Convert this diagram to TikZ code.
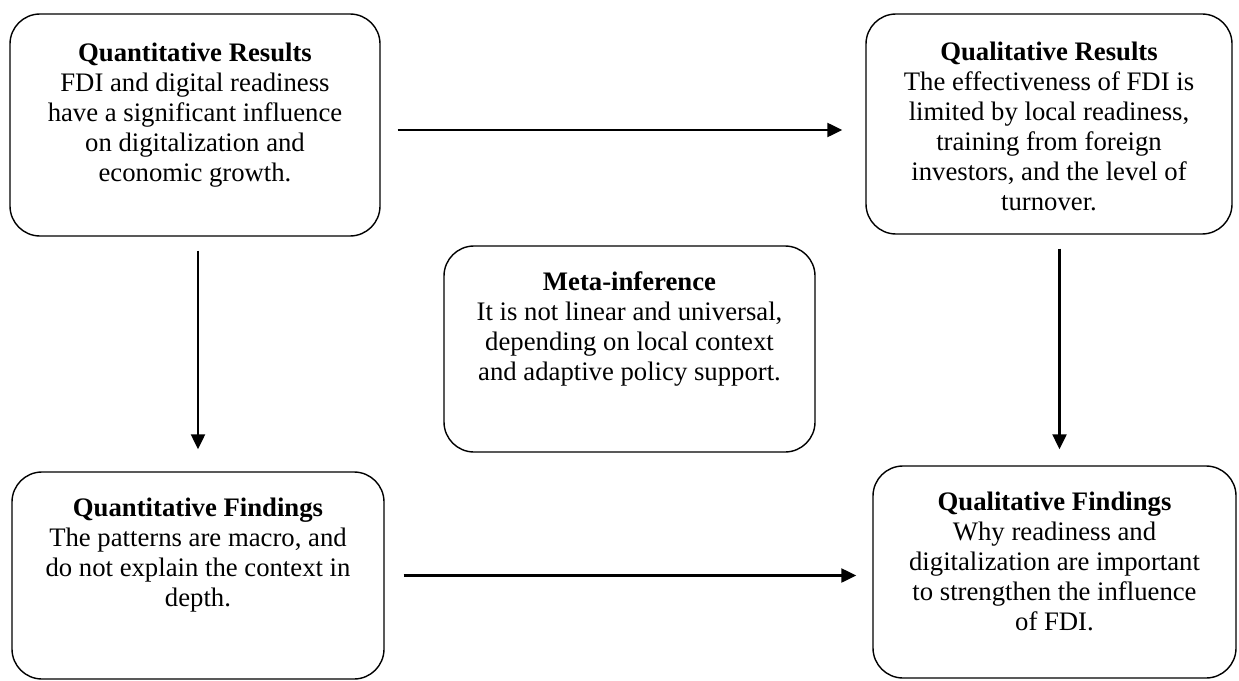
\documentclass[tikz,border=0pt]{standalone}
\usepackage{fontspec}
\setmainfont{Liberation Serif}
\usetikzlibrary{positioning,arrows.meta}
\tikzset{
  panel/.style={draw,line width=0.8pt,rounded corners=0.6cm,inner sep=0pt},
  paneltext/.style={align=center,inner sep=0pt,font=\fontsize{15.2pt}{17.07pt}\selectfont},
  flow/.style={line width=1.3pt,-{Triangle[length=3mm,width=2.8mm]}}
}
\begin{document}
\begin{tikzpicture}
\useasboundingbox (0,0) rectangle (24.78,-13.6);
\node [panel,minimum width=7.40cm,minimum height=4.44cm] (qnres) at (3.90,-2.50) {};
\node [panel,minimum width=7.32cm,minimum height=4.40cm] (qlres) at (20.98,-2.48) {};
\node [panel,minimum width=7.42cm,minimum height=4.12cm] (meta) at (12.59,-6.98) {};
\node [panel,minimum width=7.44cm,minimum height=4.14cm] (qnfind) at (3.96,-11.51) {};
\node [panel,minimum width=7.26cm,minimum height=4.24cm] (qlfind) at (21.09,-11.44) {};
\node [paneltext,below=0.59cm of qnres.north] (qnrestext)
  {\textbf{Quantitative Results}\\FDI and digital readiness\\have a significant influence\\on digitalization and\\economic growth.};
\node [paneltext,below=0.57cm of qlres.north] (qlrestext)
  {\textbf{Qualitative Results}\\The effectiveness of FDI is\\limited by local readiness,\\training from foreign\\investors, and the level of\\turnover.};
\node [paneltext,below=0.53cm of meta.north] (metatext)
  {\textbf{Meta-inference}\\It is not linear and universal,\\depending on local context\\and adaptive policy support.};
\node [paneltext,below=0.53cm of qnfind.north] (qnfindtext)
  {\textbf{Quantitative Findings}\\The patterns are macro, and\\do not explain the context in\\depth.};
\node [paneltext,below=0.53cm of qlfind.north] (qlfindtext)
  {\textbf{Qualitative Findings}\\Why readiness and\\digitalization are important\\to strengthen the influence\\of FDI.};
\draw [flow,shorten <=0.34cm,shorten >=0.46cm] ([yshift=-1mm]qnres.east) -- ([yshift=-1mm]qnres.east -| qlres.west);
\draw [flow,shorten <=0.28cm,shorten >=0.44cm] (qnres.south -| qnfind.north) -- (qnfind.north);
\draw [flow,shorten <=0.28cm,shorten >=0.32cm] ([xshift=1mm]qlres.south -| qlfind.north) -- ([xshift=1mm]qlfind.north);
\draw [flow,shorten <=0.38cm,shorten >=0.32cm] (qnfind.east) -- (qnfind.east -| qlfind.west);
\end{tikzpicture}
\end{document}
